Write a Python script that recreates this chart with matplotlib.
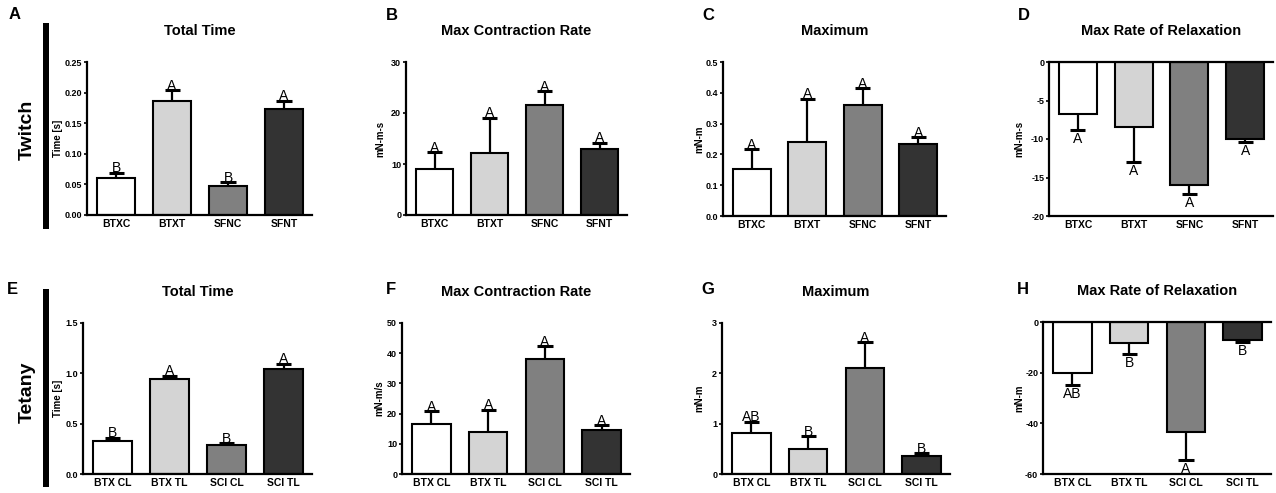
import matplotlib
matplotlib.use("Agg")
import matplotlib.pyplot as plt
from matplotlib.patches import Rectangle

plt.rcParams["font.family"] = ["Liberation Sans", "DejaVu Sans"]

W, H = 1276, 493  # output size in pixels

BAR_COLORS = ["#ffffff", "#d4d4d4", "#808080", "#333333"]

# ---- data ----
twitch_groups = ["BTXC", "BTXT", "SFNC", "SFNT"]
tetany_groups = ["BTX CL", "BTX TL", "SCI CL", "SCI TL"]

tw_total_mean = [0.061, 0.187, 0.048, 0.174]
tw_total_sem = [0.008, 0.017, 0.006, 0.013]
tw_total_sig = ["B", "A", "B", "A"]

tw_contr_mean = [8.95, 12.2, 21.5, 13.0]
tw_contr_sem = [3.35, 6.9, 2.8, 1.2]
tw_contr_sig = ["A", "A", "A", "A"]

tw_max_mean = [0.154, 0.240, 0.361, 0.234]
tw_max_sem = [0.062, 0.141, 0.053, 0.021]
tw_max_sig = ["A", "A", "A", "A"]

tw_relax_mean = [-6.7, -8.5, -16.0, -9.96]
tw_relax_sem = [2.13, 4.5, 1.1, 0.44]
tw_relax_sig = ["A", "A", "A", "A"]

te_total_mean = [0.327, 0.948, 0.284, 1.044]
te_total_sem = [0.033, 0.027, 0.020, 0.050]
te_total_sig = ["B", "A", "B", "A"]

te_contr_mean = [16.4, 13.8, 38.2, 14.5]
te_contr_sem = [4.4, 7.5, 4.2, 1.7]
te_contr_sig = ["A", "A", "A", "A"]

te_max_mean = [0.81, 0.49, 2.11, 0.36]
te_max_sem = [0.23, 0.26, 0.51, 0.05]
te_max_sig = ["AB", "B", "A", "B"]

te_relax_mean = [-19.96, -8.2, -43.5, -7.0]
te_relax_sem = [5.0, 4.4, 10.8, 0.8]
te_relax_sig = ["AB", "B", "A", "B"]


def fx(px):
    return px / W


def fy(py):
    return 1 - py / H


def draw_panel(fig, box, letter, title, groups, mean, sem, sig,
               ylabel, ylim, yticks, yfmt, label_off):
    left, top, right, bottom = box
    ax = fig.add_axes([fx(left), fy(bottom), fx(right - left),
                       fy(top) - fy(bottom)])
    x = list(range(len(groups)))
    ax.bar(x, mean, width=0.68, color=BAR_COLORS, edgecolor="black",
           linewidth=1.5, zorder=2)

    # one-sided error bars + significance letters
    for xi, m, s, lab in zip(x, mean, sem, sig):
        end = m + s if m >= 0 else m - s
        ax.vlines(xi, m, end, color="black", linewidth=1.6, zorder=3)
        ax.hlines(end, xi - 0.135, xi + 0.135, color="black",
                  linewidth=2.2, zorder=3)
        if m >= 0:
            ax.annotate(lab, (xi, end), xytext=(0, 0.3),
                        textcoords="offset points", ha="center",
                        va="baseline", fontsize=10)
        else:
            ax.annotate(lab, (xi, end), xytext=(0, -1.5),
                        textcoords="offset points", ha="center",
                        va="top", fontsize=10)

    ax.set_xlim(-0.52, 3.5)
    ax.set_ylim(*ylim)
    ax.set_yticks(yticks)
    ax.set_yticklabels([yfmt.format(t) for t in yticks])
    ax.set_xticks(x)
    ax.set_xticklabels(groups)
    for t in ax.get_xticklabels() + ax.get_yticklabels():
        t.set_fontweight("bold")
    ax.tick_params(axis="x", length=0, pad=3, labelsize=7.5)
    ax.tick_params(axis="y", length=2.5, width=1.2, pad=1, labelsize=6.5)

    negative = ylim[1] <= 0
    ax.spines["right"].set_visible(False)
    ax.spines["top"].set_visible(negative)
    for sp in ("left", "bottom", "top"):
        ax.spines[sp].set_linewidth(1.6)

    ax.set_ylabel(ylabel, fontsize=7, fontweight="bold")
    ax.yaxis.set_label_coords(-label_off / (right - left), 0.5)

    fig.text(fx((left + right) / 2), fy(top - 31), title, ha="center",
             va="center", fontsize=10.5, fontweight="bold")
    fig.text(fx(letter[1]), fy(letter[2]), letter[0], ha="left", va="top",
             fontsize=12, fontweight="bold")
    return ax


fig = plt.figure(figsize=(W / 100, H / 100), dpi=100)
fig.patch.set_facecolor("white")

# Row 1: Twitch
draw_panel(fig, (87, 62, 312, 215), ("A", 9, 7), "Total Time",
           twitch_groups, tw_total_mean, tw_total_sem, tw_total_sig,
           "Time [s]", (0, 0.25), [0, 0.05, 0.10, 0.15, 0.20, 0.25],
           "{:.2f}", 24)
draw_panel(fig, (406, 62, 627, 215), ("B", 386, 8), "Max Contraction Rate",
           twitch_groups, tw_contr_mean, tw_contr_sem, tw_contr_sig,
           "mN-m-s", (0, 30), [0, 10, 20, 30], "{:.0f}", 21)
draw_panel(fig, (723, 62, 946, 216), ("C", 702, 8), "Maximum",
           twitch_groups, tw_max_mean, tw_max_sem, tw_max_sig,
           "mN-m", (0, 0.5), [0, 0.1, 0.2, 0.3, 0.4, 0.5], "{:.1f}", 19)
draw_panel(fig, (1049, 62, 1273, 216), ("D", 1018, 8),
           "Max Rate of Relaxation",
           twitch_groups, tw_relax_mean, tw_relax_sem, tw_relax_sig,
           "mN-m-s", (-20, 0), [-20, -15, -10, -5, 0], "{:.0f}", 25)

# Row 2: Tetany
draw_panel(fig, (83, 323, 312, 474), ("E", 7, 282), "Total Time",
           tetany_groups, te_total_mean, te_total_sem, te_total_sig,
           "Time [s]", (0, 1.5), [0, 0.5, 1.0, 1.5], "{:.1f}", 20)
draw_panel(fig, (402, 323, 630, 474), ("F", 386, 282),
           "Max Contraction Rate",
           tetany_groups, te_contr_mean, te_contr_sem, te_contr_sig,
           "mN-m/s", (0, 50), [0, 10, 20, 30, 40, 50], "{:.0f}", 18)
draw_panel(fig, (722, 323, 950, 474), ("G", 701, 282), "Maximum",
           tetany_groups, te_max_mean, te_max_sem, te_max_sig,
           "mN-m", (0, 3), [0, 1, 2, 3], "{:.0f}", 18)
draw_panel(fig, (1043, 322, 1271, 474), ("H", 1017, 282),
           "Max Rate of Relaxation",
           tetany_groups, te_relax_mean, te_relax_sem, te_relax_sig,
           "mN-m", (-60, 0), [-60, -40, -20, 0], "{:.0f}", 19)

# Row labels with thick vertical bars
for label, y0, y1 in (("Twitch", 23, 229), ("Tetany", 289, 487)):
    fig.patches.append(Rectangle((fx(43), fy(y1)), fx(6), fy(y0) - fy(y1),
                                 transform=fig.transFigure,
                                 facecolor="black", edgecolor="none"))
    fig.text(fx(27), fy((y0 + y1) / 2 + 4), label, rotation=90,
             ha="center", va="center", fontsize=14, fontweight="bold")

fig.savefig("out.png", dpi=100, facecolor="white")
